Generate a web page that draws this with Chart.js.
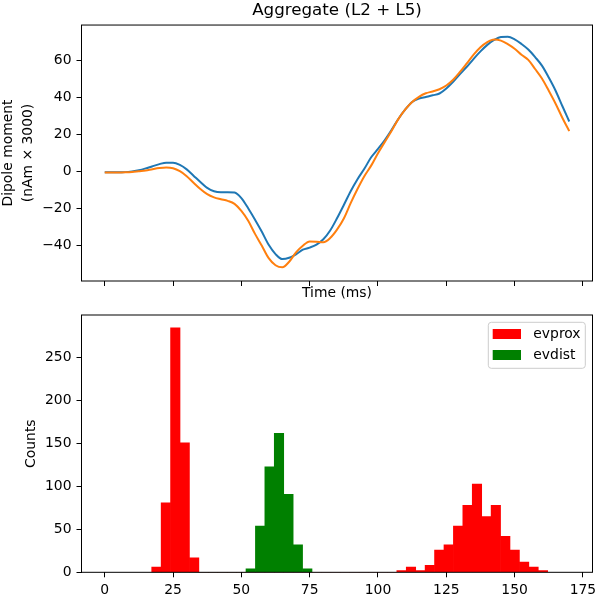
<!DOCTYPE html>
<html lang="en">
<head>
    <meta charset="UTF-8">
    <title>Aggregate (L2 + L5)</title>
    <script src="https://cdn.jsdelivr.net/npm/chart.js"></script>
    <style>
        body { margin: 0; background: #fff; }
        #wrap { position: relative; width: 600px; height: 600px; }
        canvas { position: absolute; left: 0; }
        #dipoleChart { top: 0; }
        #histChart { top: 305px; }
    </style>
</head>
<body>
    <div id="wrap">
        <canvas id="dipoleChart" width="600" height="305"></canvas>
        <canvas id="histChart" width="600" height="295"></canvas>
    </div>
    <script>
        // Dipole traces
        const timeMs = [0, 2.5, 5, 7.5, 10, 12.5, 15, 17.5, 20, 22.5, 25, 27.5, 30, 32.5, 35, 37.5, 40, 42.5, 45, 47.5,
            50, 52.5, 55, 57.5, 60, 62.5, 65, 67.5, 70, 72.5, 75, 77.5, 80, 82.5, 85, 87.5, 90, 92.5, 95, 97.5,
            100, 102.5, 105, 107.5, 110, 112.5, 115, 117.5, 120, 122.5, 125, 127.5, 130, 132.5, 135, 137.5, 140, 142.5, 145, 147.5,
            150, 152.5, 155, 157.5, 160, 162.5, 165, 167.5, 170];
        const dipoleBlue = [-0.4, -0.4, -0.4, -0.3, 0.1, 0.7, 1.7, 2.9, 4.0, 4.8,
            4.8, 3.6, 1.2, -2.2, -5.6, -8.8, -10.6, -11.1, -11.1, -11.3,
            -14.3, -19.8, -26, -32.5, -39.5, -44.5, -47.2, -46.5, -44.6, -42.1,
            -41, -39.4, -36.5, -31.8, -25.2, -18, -10.6, -4.1, 1.5, 7.7,
            12.2, 17, 22.5, 28.5, 33.5, 37.5, 39.3, 40.2, 41.1, 42.1,
            44.8, 48.4, 52.5, 56.5, 60.8, 64.8, 68.3, 71, 72.6, 72.7,
            71.3, 68.8, 65.8, 61.7, 57.1, 50.7, 43.6, 35.2, 27];
        const dipoleOrange = [-0.5, -0.5, -0.5, -0.4, -0.2, 0.2, 0.6, 1.3, 1.9, 2.2,
            1.8, 0.2, -2.5, -6.0, -9.4, -12.2, -13.9, -14.9, -15.8, -17.4,
            -21.2, -26.5, -33.6, -40, -46.7, -50.5, -51.6, -48.6, -43.6, -40,
            -37.7, -37.8, -38.1, -35.8, -31.3, -25.3, -17, -9.4, -2.5, 3.2,
            9.9, 16, 22, 28.4, 33.5, 37.5, 40.3, 42.2, 43.2, 44.4,
            46.4, 49.5, 53.7, 58.3, 63, 67, 69.8, 71.2, 70.6, 68.7,
            66.2, 63, 60.2, 55.3, 50.2, 43.6, 36.6, 28.9, 21.8];

        // Spike histogram: bins of equal width starting at binStart
        const binStart = 17.2;
        const binWidth = 3.45;
        const evproxCounts = [6, 81, 285, 151, 17, 0, 0, 0, 0, 0,
            0, 0, 0, 0, 0, 0, 0, 0, 0, 0,
            0, 0, 0, 0, 0, 0, 2, 6, 2, 8,
            26, 32, 54, 78, 103, 65, 78, 42, 26, 12,
            6, 2];
        const evdistCounts = [0, 0, 0, 0, 0, 0, 0, 0, 0, 0,
            4, 54, 123, 162, 91, 32, 4];

        const timeTicks = [0, 25, 50, 75, 100, 125, 150, 175];
        const dipoleTicks = [-40, -20, 0, 20, 40, 60];
        const countTicks = [0, 50, 100, 150, 200, 250];

        Chart.defaults.font.family = '"DejaVu Sans", sans-serif';
        Chart.defaults.font.size = 13.9;
        Chart.defaults.color = '#000';

        // box around the plot area, like matplotlib spines
        const frame = {
            id: 'frame',
            afterDatasetsDraw(chart) {
                const { ctx, chartArea: a } = chart;
                ctx.save();
                ctx.strokeStyle = '#000';
                ctx.lineWidth = 1;
                ctx.strokeRect(a.left, a.top, a.right - a.left, a.bottom - a.top);
                ctx.restore();
            }
        };

        // legend drawn inside the plot, upper right
        const boxLegend = {
            id: 'boxLegend',
            afterDraw(chart) {
                const { ctx, chartArea: a } = chart;
                const w = 97, h = 46;
                const x = a.right - 7.2 - w, y = a.top + 7.3;
                ctx.save();
                ctx.fillStyle = 'rgba(255,255,255,0.8)';
                ctx.strokeStyle = '#cccccc';
                ctx.lineWidth = 1;
                ctx.beginPath();
                ctx.roundRect(x, y, w, h, 3);
                ctx.fill();
                ctx.stroke();
                ctx.font = '13.9px "DejaVu Sans"';
                ctx.textBaseline = 'middle';
                chart.data.datasets.forEach((ds, i) => {
                    const rowY = y + 11.7 + i * 21;
                    ctx.fillStyle = ds.backgroundColor;
                    ctx.fillRect(x + 4.4, rowY - 5, 28.3, 10);
                    ctx.fillStyle = '#000';
                    ctx.fillText(ds.label, x + 45, rowY);
                });
                ctx.restore();
            }
        };

        const minus = v => String(v).replace('-', '\u2212');
        const gridStyle = { drawOnChartArea: false, color: '#000', tickLength: 5, lineWidth: 1 };

        // fixed axis sizes so the plot areas line up with the reference
        function fixWidth(w) {
            return s => { s.width = w; s.paddingTop = 0; s.paddingBottom = 0; };
        }
        function fixHeight(h) {
            return s => { s.height = h; s.paddingLeft = 0; s.paddingRight = 0; };
        }

        function points(xs, ys) {
            return xs.map((x, i) => ({ x: x, y: ys[i] }));
        }
        function binCenter(k) {
            return binStart + (k + 0.5) * binWidth;
        }

        new Chart(document.getElementById('dipoleChart'), {
            type: 'line',
            data: {
                datasets: [{
                    label: 'Trial 1',
                    data: points(timeMs, dipoleBlue),
                    borderColor: '#1f77b4',
                    borderWidth: 2,
                    pointRadius: 0,
                    cubicInterpolationMode: 'monotone',
                    order: 1
                }, {
                    label: 'Trial 2',
                    data: points(timeMs, dipoleOrange),
                    borderColor: '#ff7f0e',
                    borderWidth: 2,
                    pointRadius: 0,
                    cubicInterpolationMode: 'monotone',
                    order: 0
                }]
            },
            options: {
                responsive: false,
                animation: false,
                layout: { padding: { left: 0, right: 7.5, top: 0, bottom: 0 } },
                plugins: {
                    legend: { display: false },
                    tooltip: { enabled: false },
                    title: {
                        display: true,
                        text: 'Aggregate (L2 + L5)',
                        fullSize: false,
                        color: '#000',
                        font: { size: 16.7, weight: 'normal' },
                        padding: { top: 1, bottom: 4 }
                    }
                },
                scales: {
                    x: {
                        type: 'linear', min: -8.5, max: 178.5,
                        afterBuildTicks: s => { s.ticks = timeTicks.map(v => ({ value: v })); },
                        afterFit: fixHeight(24),
                        ticks: { callback: () => '', autoSkip: false, maxRotation: 0 },
                        grid: gridStyle,
                        border: { display: false },
                        title: { display: true, text: 'Time (ms)', padding: { top: 0, bottom: 3.7 } }
                    },
                    y: {
                        min: -59, max: 79,
                        afterBuildTicks: s => { s.ticks = dipoleTicks.map(v => ({ value: v })); },
                        afterFit: fixWidth(81.5),
                        ticks: { callback: minus, padding: 5 },
                        grid: gridStyle,
                        border: { display: false },
                        title: {
                            display: true,
                            text: ['Dipole moment', '(nAm \u00d7 3000)'],
                            font: { size: 13.9, lineHeight: 1.4 },
                            padding: { top: -1, bottom: 0 }
                        }
                    }
                }
            },
            plugins: [frame]
        });

        new Chart(document.getElementById('histChart'), {
            type: 'bar',
            data: {
                datasets: [{
                    label: 'evprox',
                    data: evproxCounts.map((c, k) => ({ x: binCenter(k), y: c })),
                    backgroundColor: '#ff0000',
                    borderWidth: 0,
                    grouped: false,
                    barPercentage: 1,
                    categoryPercentage: 1
                }, {
                    label: 'evdist',
                    data: evdistCounts.map((c, k) => ({ x: binCenter(k), y: c })),
                    backgroundColor: '#008000',
                    borderWidth: 0,
                    grouped: false,
                    barPercentage: 1,
                    categoryPercentage: 1
                }]
            },
            options: {
                responsive: false,
                animation: false,
                layout: { padding: { left: 0, right: 7.5, top: 10, bottom: 0 } },
                plugins: {
                    legend: { display: false },
                    tooltip: { enabled: false }
                },
                scales: {
                    x: {
                        type: 'linear', min: -8.5, max: 178.5,
                        offset: false,
                        afterBuildTicks: s => { s.ticks = timeTicks.map(v => ({ value: v })); },
                        afterFit: fixHeight(27.7),
                        ticks: { padding: 5, autoSkip: false, maxRotation: 0 },
                        grid: Object.assign({ offset: false }, gridStyle),
                        border: { display: false }
                    },
                    y: {
                        min: 0, max: 300,
                        afterBuildTicks: s => { s.ticks = countTicks.map(v => ({ value: v })); },
                        afterFit: fixWidth(81.5),
                        ticks: { padding: 5 },
                        grid: gridStyle,
                        border: { display: false },
                        title: { display: true, text: 'Counts', padding: { top: 23.4, bottom: 0 } }
                    }
                }
            },
            plugins: [frame, boxLegend]
        });
    </script>
</body>
</html>
